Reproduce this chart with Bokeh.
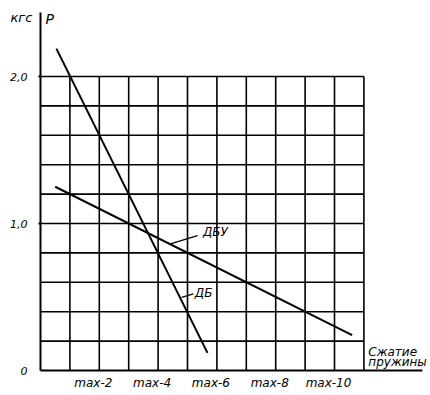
from bokeh.plotting import figure
from bokeh.models import Range1d, Label
from bokeh.core.properties import value
from bokeh.embed import file_html
from bokeh.resources import INLINE

# ---- data ----
compression_ticks = [2, 4, 6, 8, 10]
compression_labels = ["max-2", "max-4", "max-6", "max-8", "max-10"]
force_ticks = [0, 1, 2]
force_labels = ["0", "1,0", "2,0"]
grid_cols = [1, 2, 3, 4, 5, 6, 7, 8, 9, 10, 11]
grid_rows = [0.2, 0.4, 0.6, 0.8, 1.0, 1.2, 1.4, 1.6, 1.8, 2.0]
grid_x_max = 11
grid_y_max = 2.0
db_x = [0.54, 5.68]      # ДБ
db_y = [2.19, 0.12]
dbu_x = [0.5, 10.6]      # ДБУ
dbu_y = [1.25, 0.24]

FONT = "DejaVu Sans"
X_AXIS_END = 12.99
Y_AXIS_END = 2.435

p = figure(width=430, height=395, output_backend="svg", toolbar_location=None,
           x_range=Range1d(-1.3605, 13.265), y_range=Range1d(-0.170, 2.517),
           min_border=0)
p.min_border_left = 0
p.min_border_right = 0
p.min_border_top = 0
p.min_border_bottom = 0
p.xaxis.visible = False
p.yaxis.visible = False
p.outline_line_color = None
p.grid.visible = False
p.background_fill_color = "white"
p.border_fill_color = "white"

# grid
nr = len(grid_rows)
p.segment(x0=[0] * nr, y0=grid_rows, x1=[grid_x_max] * nr, y1=grid_rows,
          line_color="black", line_width=1.6)
nc = len(grid_cols)
p.segment(x0=grid_cols, y0=[0] * nc, x1=grid_cols, y1=[grid_y_max] * nc,
          line_color="black", line_width=1.6)

# axes lines
p.segment(x0=[0, 0], y0=[0, 0], x1=[X_AXIS_END, 0], y1=[0, Y_AXIS_END],
          line_color="black", line_width=2)
# small ticks on the force axis
tick_vals = [t for t in force_ticks if t > 0]
p.segment(x0=[-0.07] * len(tick_vals), y0=tick_vals, x1=[0] * len(tick_vals), y1=tick_vals,
          line_color="black", line_width=2)

# tick labels
p.text(x=[-0.44] * len(force_ticks), y=force_ticks, text=force_labels,
       text_font=value(FONT), text_font_style="italic", text_font_size="11px",
       text_align="right", text_baseline="middle", text_color="black")
p.text(x=compression_ticks, y=[-0.088] * len(compression_ticks), text=compression_labels,
       x_offset=-6,
       text_font=value(FONT), text_font_style="italic", text_font_size="12px",
       text_align="center", text_baseline="middle", text_color="black")

# characteristic lines
p.line(db_x, db_y, line_color="black", line_width=2)
p.line(dbu_x, dbu_y, line_color="black", line_width=2)

# leader lines for labels
p.segment(x0=[4.42, 4.80], y0=[0.862, 0.497], x1=[5.34, 5.20], y1=[0.918, 0.522],
          line_color="black", line_width=1.3)

def lab(x, y, text, size, align="left", baseline="middle"):
    p.add_layout(Label(x=x, y=y, text=text, text_font=FONT, text_font_style="italic",
                       text_font_size=size, text_color="black",
                       text_align=align, text_baseline=baseline))

lab(-0.65, 2.40, "кгс", "13px", align="center", baseline="alphabetic")
lab(0.17, 2.39, "P", "14px", align="left", baseline="alphabetic")
lab(5.95, 0.94, "ДБУ", "12px", align="center")
lab(5.55, 0.524, "ДБ", "12px", align="center")
lab(11.15, 0.125, "Сжатие", "12px")
lab(11.15, 0.058, "пружины", "12px")

open("out.html", "w").write(file_html(p, INLINE))
